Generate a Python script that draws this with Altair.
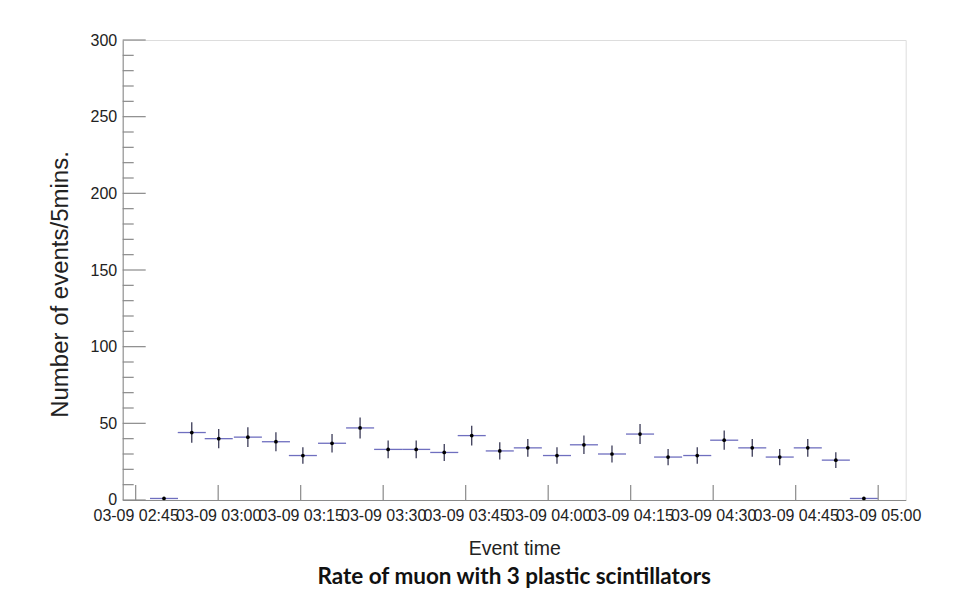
import json
import altair as alt
import pandas as pd

# ---- data ----
# bin centres, minutes after 03-09 02:45
bin_centres = [5.15, 10.2, 15.1, 20.4, 25.5, 30.4, 35.7, 40.8, 45.9, 51.0, 56.1, 61.1, 66.2,
               71.3, 76.6, 81.5, 86.6, 91.7, 96.8, 102.1, 107.0, 112.1, 117.1, 122.2, 127.3, 132.4]
counts = [1, 44, 40, 41, 38, 29, 37, 47, 33, 33, 31, 42, 32,
          34, 29, 36, 30, 43, 28, 29, 39, 34, 28, 34, 26, 1]
bin_half_width = 2.55  # minutes

x_tick_values = [0, 15, 30, 45, 60, 75, 90, 105, 120, 135]
x_tick_labels = ["03-09 02:45", "03-09 03:00", "03-09 03:15", "03-09 03:30", "03-09 03:45",
                 "03-09 04:00", "03-09 04:15", "03-09 04:30", "03-09 04:45", "03-09 05:00"]
y_major = [0, 50, 100, 150, 200, 250, 300]
y_minor = [10, 20, 30, 40, 60, 70, 80, 90, 110, 120, 130, 140, 160, 170, 180, 190,
           210, 220, 230, 240, 260, 270, 280, 290]

df = pd.DataFrame({"t": bin_centres, "n": counts})

SANS = "'Liberation Sans', Arial, Helvetica, sans-serif"
AXIS_GREY = "#8a8a8a"
X_TITLE = "Event time"
Y_TITLE = "Number of events/5mins."

xscale = alt.Scale(domain=[-2.36, 140.0], nice=False, zero=False)
yscale = alt.Scale(domain=[0, 300], nice=False)

label_expr = f"{json.dumps(x_tick_labels)}[indexof({json.dumps(x_tick_values)}, datum.value)]"

xaxis = alt.Axis(values=x_tick_values, labelExpr=label_expr, ticks=False, grid=False,
                 labelFont=SANS, labelFontSize=16, labelColor="#222", labelPadding=8,
                 labelOverlap=False, labelFlush=False, domainColor=AXIS_GREY,
                 titleFont=SANS, titleFontSize=19.5, titleFontWeight="normal",
                 titleColor="#222", titlePadding=16)
yaxis = alt.Axis(values=y_major, ticks=False, grid=False,
                 labelFont=SANS, labelFontSize=16, labelColor="#222", labelPadding=6,
                 domainColor=AXIS_GREY,
                 titleFont=SANS, titleFontSize=24, titleFontWeight="normal",
                 titleColor="#222", titlePadding=18, titleY=244)


def X(field):
    return alt.X(field, scale=xscale, axis=xaxis, title=X_TITLE)


def Y(field):
    return alt.Y(field, scale=yscale, axis=yaxis, title=Y_TITLE)


hbars = alt.Chart(df).transform_calculate(
    t0=f"datum.t - {bin_half_width}", t1=f"datum.t + {bin_half_width}"
).mark_rule(color="#6f6fbf", strokeWidth=1.3).encode(
    x=X("t0:Q"), x2="t1:Q", y=Y("n:Q"),
)

vbars = alt.Chart(df).transform_calculate(
    lo="datum.n - sqrt(datum.n)", hi="datum.n + sqrt(datum.n)"
).mark_rule(color="#2b2b4a", strokeWidth=1.2).encode(
    x=X("t:Q"), y=Y("lo:Q"), y2="hi:Q"
)

points = alt.Chart(df).mark_point(filled=True, shape="circle", size=14, color="black",
                                  opacity=1).encode(x=X("t:Q"), y=Y("n:Q"))

ymaj_ticks = alt.Chart(pd.DataFrame({"v": y_major})).mark_rule(
    color=AXIS_GREY, strokeWidth=1.2).encode(
    y=Y("v:Q"), x=alt.value(0), x2=alt.value(23))
ymin_ticks = alt.Chart(pd.DataFrame({"v": y_minor})).mark_rule(
    color=AXIS_GREY, strokeWidth=1.2).encode(
    y=Y("v:Q"), x=alt.value(0), x2=alt.value(11))
x_ticks = alt.Chart(pd.DataFrame({"v": x_tick_values})).mark_rule(
    color=AXIS_GREY, strokeWidth=1.2).encode(
    x=X("v:Q"), y=alt.value(460), y2=alt.value(445))

chart = alt.layer(hbars, vbars, points, ymaj_ticks, ymin_ticks, x_ticks).properties(
    width=783, height=460,
    title=alt.TitleParams("Rate of muon with 3 plastic scintillators", orient="bottom",
                          anchor="middle", font="Lato", fontWeight="bold", fontSize=22.5,
                          color="#111", offset=8),
    autosize=alt.AutoSizeParams(type="none"),
    padding={"left": 114.7, "top": 32, "right": 40, "bottom": 100},
).configure_view(stroke=AXIS_GREY, strokeWidth=1.2).configure(background="white")

chart.save("out.html", embed_options={"renderer": "svg", "actions": False})
